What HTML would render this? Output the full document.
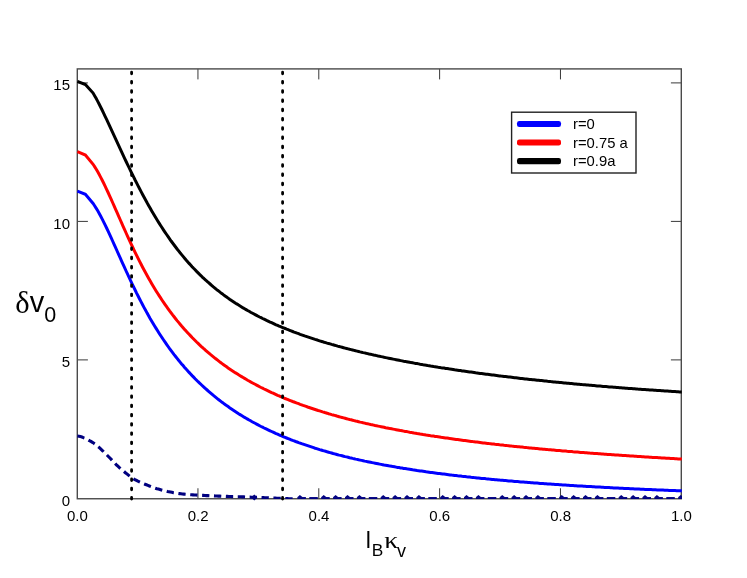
<!DOCTYPE html>
<html><head><meta charset="utf-8"><style>
html,body{margin:0;padding:0;background:#fff;}
body{width:747px;height:578px;overflow:hidden;font-family:"Liberation Sans",sans-serif;}
svg{display:block;}
text{font-family:"Liberation Sans",sans-serif;fill:#000;}
svg{will-change:transform;}
.serif{font-family:"Liberation Serif",serif;}
</style></head><body>
<svg width="747" height="578" viewBox="0 0 747 578">
<rect width="747" height="578" fill="#fff"/>
<defs><clipPath id="c"><rect x="76.6" y="68.2" width="605.4" height="430.80"/></clipPath></defs>
<g stroke="#383838" stroke-width="1" fill="none"><line x1="197.95" y1="498.75" x2="197.95" y2="488.25"/><line x1="197.95" y1="68.9" x2="197.95" y2="79.4"/><line x1="318.79" y1="498.75" x2="318.79" y2="488.25"/><line x1="318.79" y1="68.9" x2="318.79" y2="79.4"/><line x1="439.62" y1="498.75" x2="439.62" y2="488.25"/><line x1="439.62" y1="68.9" x2="439.62" y2="79.4"/><line x1="560.46" y1="498.75" x2="560.46" y2="488.25"/><line x1="560.46" y1="68.9" x2="560.46" y2="79.4"/><line x1="77.4" y1="359.9" x2="87.9" y2="359.9"/><line x1="681.4" y1="359.9" x2="670.9" y2="359.9"/><line x1="77.4" y1="221.4" x2="87.9" y2="221.4"/><line x1="681.4" y1="221.4" x2="670.9" y2="221.4"/><line x1="77.4" y1="82.9" x2="87.9" y2="82.9"/><line x1="681.4" y1="82.9" x2="670.9" y2="82.9"/></g>
<rect x="77.3" y="68.9" width="604.0" height="429.85" fill="none" stroke="#4a4a4a" stroke-width="1.4"/>
<g clip-path="url(#c)" fill="none" stroke-width="3.0" stroke-linejoin="miter">
<path d="M77.4,436.0 L78.9,436.2 L80.4,436.6 L81.9,437.0 L83.4,437.6 L84.9,438.1 L86.4,438.9 L87.9,439.7 L89.4,440.6 L90.9,441.4 L92.4,442.3 L93.9,443.3 L95.4,444.3 L96.9,445.5 L98.4,446.8 L99.9,448.2 L101.4,449.6 L102.9,451.0 L104.4,452.5 L105.9,454.0 L107.4,455.5 L108.9,457.0 L110.4,458.5 L111.9,460.1 L113.4,461.7 L114.9,463.2 L116.4,464.8 L117.9,466.2 L119.4,467.6 L120.9,468.9 L122.4,470.2 L123.9,471.4 L125.4,472.7 L126.9,473.9 L128.4,475.1 L129.9,476.3 L131.4,477.4 L132.9,478.4 L134.4,479.3 L135.9,480.1 L137.4,480.9 L138.9,481.6 L140.4,482.3 L141.9,483.0 L143.4,483.6 L144.9,484.2 L146.4,484.8 L147.9,485.4 L149.4,486.0 L150.9,486.6 L152.4,487.1 L153.9,487.7 L155.4,488.2 L156.9,488.7 L158.4,489.1 L159.9,489.5 L161.4,489.9 L162.9,490.3 L164.4,490.7 L165.9,491.0 L167.4,491.4 L168.9,491.7 L170.4,492.0 L171.9,492.3 L173.4,492.7 L174.9,492.9 L176.4,493.2 L177.9,493.4 L179.4,493.6 L180.9,493.8 L182.4,494.0 L183.9,494.1 L185.4,494.3 L186.9,494.4 L188.4,494.5 L189.9,494.7 L191.4,494.8 L192.9,494.9 L194.4,495.0 L195.9,495.0 L197.4,495.1 L198.9,495.2 L200.4,495.3 L201.9,495.4 L203.4,495.4 L204.9,495.5 L206.4,495.6 L207.9,495.6 L209.4,495.7 L210.9,495.8 L212.4,495.8 L213.9,495.9 L215.4,496.0 L216.9,496.0 L218.4,496.1 L219.9,496.1 L221.4,496.2 L222.9,496.2 L224.4,496.3 L225.9,496.4 L227.4,496.4 L228.9,496.5 L230.4,496.5 L231.9,496.6 L233.4,496.6 L234.9,496.7 L236.4,496.7 L237.9,496.7 L239.4,496.8 L240.9,496.8 L242.4,496.9 L243.9,496.9 L245.4,497.0 L246.9,497.0 L248.4,497.1 L249.9,497.1 L251.4,497.2 L252.9,497.2 L254.4,497.3 L255.9,497.3 L257.4,497.4 L258.9,497.5 L260.4,497.5 L261.9,497.6 L263.4,497.6 L264.9,497.7 L266.4,497.7 L267.9,497.8 L269.4,497.9 L270.9,497.9 L272.4,498.0 L273.9,498.0 L275.4,498.1 L276.9,498.2 L278.4,498.2 L279.9,498.3 L281.4,498.4 L282.9,498.4 L284.4,498.5 L285.9,498.5 L287.4,498.6 L288.9,498.7 L290.4,498.7 L291.9,498.8 L293.4,498.9 L294.0,498.9" stroke="#000080" stroke-width="3.1" stroke-dasharray="7.3 4.6"/>
<g fill="#000080" stroke="none"><rect x="297.4" y="497.05" width="8.5" height="2.2"/><path d="M297.3,497.3 L299.9,495.1 L302.7,497.3Z"/><rect x="309.3" y="497.05" width="8.5" height="2.2"/><rect x="321.2" y="497.05" width="8.5" height="2.2"/><path d="M321.1,497.3 L323.7,495.1 L326.5,497.3Z"/><rect x="333.1" y="497.05" width="8.5" height="2.2"/><path d="M333.0,497.3 L335.6,495.1 L338.4,497.3Z"/><rect x="345.0" y="497.05" width="8.5" height="2.2"/><path d="M344.9,497.3 L347.5,495.1 L350.3,497.3Z"/><rect x="356.9" y="497.05" width="8.5" height="2.2"/><path d="M356.8,497.3 L359.4,495.1 L362.2,497.3Z"/><rect x="368.8" y="497.05" width="8.5" height="2.2"/><rect x="380.7" y="497.05" width="8.5" height="2.2"/><path d="M380.6,497.3 L383.2,495.1 L386.0,497.3Z"/><rect x="392.6" y="497.05" width="8.5" height="2.2"/><path d="M392.5,497.3 L395.1,495.1 L397.9,497.3Z"/><rect x="404.5" y="497.05" width="8.5" height="2.2"/><path d="M404.4,497.3 L407.0,495.1 L409.8,497.3Z"/><rect x="416.4" y="497.05" width="8.5" height="2.2"/><path d="M416.3,497.3 L418.9,495.1 L421.7,497.3Z"/><rect x="428.3" y="497.05" width="8.5" height="2.2"/><rect x="440.2" y="497.05" width="8.5" height="2.2"/><path d="M440.1,497.3 L442.7,495.1 L445.5,497.3Z"/><rect x="452.1" y="497.05" width="8.5" height="2.2"/><path d="M452.0,497.3 L454.6,495.1 L457.4,497.3Z"/><rect x="464.0" y="497.05" width="8.5" height="2.2"/><path d="M463.9,497.3 L466.5,495.1 L469.3,497.3Z"/><rect x="475.9" y="497.05" width="8.5" height="2.2"/><path d="M475.8,497.3 L478.4,495.1 L481.2,497.3Z"/><rect x="487.8" y="497.05" width="8.5" height="2.2"/><rect x="499.7" y="497.05" width="8.5" height="2.2"/><path d="M499.6,497.3 L502.2,495.1 L505.0,497.3Z"/><rect x="511.6" y="497.05" width="8.5" height="2.2"/><path d="M511.5,497.3 L514.1,495.1 L516.9,497.3Z"/><rect x="523.5" y="497.05" width="8.5" height="2.2"/><path d="M523.4,497.3 L526.0,495.1 L528.8,497.3Z"/><rect x="535.4" y="497.05" width="8.5" height="2.2"/><path d="M535.3,497.3 L537.9,495.1 L540.7,497.3Z"/><rect x="547.3" y="497.05" width="8.5" height="2.2"/><rect x="559.2" y="497.05" width="8.5" height="2.2"/><path d="M559.1,497.3 L561.7,495.1 L564.5,497.3Z"/><rect x="571.1" y="497.05" width="8.5" height="2.2"/><path d="M571.0,497.3 L573.6,495.1 L576.4,497.3Z"/><rect x="583.0" y="497.05" width="8.5" height="2.2"/><path d="M582.9,497.3 L585.5,495.1 L588.3,497.3Z"/><rect x="594.9" y="497.05" width="8.5" height="2.2"/><path d="M594.8,497.3 L597.4,495.1 L600.2,497.3Z"/><rect x="606.8" y="497.05" width="8.5" height="2.2"/><rect x="618.7" y="497.05" width="8.5" height="2.2"/><path d="M618.6,497.3 L621.2,495.1 L624.0,497.3Z"/><rect x="630.6" y="497.05" width="8.5" height="2.2"/><path d="M630.5,497.3 L633.1,495.1 L635.9,497.3Z"/><rect x="642.5" y="497.05" width="8.5" height="2.2"/><path d="M642.4,497.3 L645.0,495.1 L647.8,497.3Z"/><rect x="654.4" y="497.05" width="8.5" height="2.2"/><path d="M654.3,497.3 L656.9,495.1 L659.7,497.3Z"/><rect x="666.3" y="497.05" width="8.5" height="2.2"/><rect x="678.2" y="497.05" width="8.5" height="2.2"/><path d="M678.1,497.3 L680.7,495.1 L683.5,497.3Z"/></g>
<path d="M77.4,191.2 L85.4,194.3 L93.1,203.5 L94.6,205.7 L96.1,208.1 L97.6,210.6 L99.1,213.2 L100.6,216.0 L102.1,218.9 L103.6,221.8 L105.1,224.9 L106.6,228.0 L108.1,231.2 L109.6,234.4 L111.1,237.7 L112.6,241.0 L114.1,244.3 L115.6,247.6 L117.1,251.0 L118.6,254.4 L120.1,257.7 L121.6,261.1 L123.1,264.4 L124.6,267.7 L126.1,271.0 L127.6,274.2 L129.1,277.5 L130.6,280.7 L132.1,283.8 L133.6,286.9 L135.1,290.0 L136.6,293.1 L138.1,296.0 L139.6,299.0 L141.1,301.9 L142.6,304.8 L144.1,307.6 L145.6,310.3 L147.1,313.1 L148.6,315.7 L150.1,318.4 L151.6,320.9 L153.1,323.5 L154.6,326.0 L156.1,328.4 L157.6,330.8 L159.1,333.2 L160.6,335.5 L162.1,337.8 L163.6,340.0 L165.1,342.2 L166.6,344.4 L168.1,346.5 L169.6,348.6 L171.1,350.6 L172.6,352.6 L174.1,354.6 L175.6,356.5 L177.1,358.4 L178.6,360.3 L180.1,362.1 L181.6,363.9 L183.1,365.6 L184.6,367.4 L186.1,369.1 L187.6,370.7 L189.1,372.4 L190.6,374.0 L192.1,375.6 L193.6,377.1 L195.1,378.7 L196.6,380.2 L198.1,381.7 L199.6,383.1 L201.1,384.5 L202.6,386.0 L204.1,387.3 L205.6,388.7 L207.1,390.0 L208.6,391.3 L210.1,392.6 L211.6,393.9 L213.1,395.2 L214.6,396.4 L216.1,397.6 L217.6,398.8 L219.1,400.0 L220.6,401.1 L222.1,402.3 L223.6,403.4 L225.1,404.5 L226.6,405.6 L228.1,406.6 L229.6,407.7 L231.1,408.7 L232.6,409.7 L234.1,410.7 L235.6,411.7 L237.1,412.7 L238.6,413.7 L240.1,414.6 L241.6,415.5 L243.1,416.4 L244.6,417.4 L246.1,418.2 L247.6,419.1 L249.1,420.0 L250.6,420.8 L252.1,421.7 L253.6,422.5 L255.1,423.3 L256.6,424.1 L258.1,424.9 L259.6,425.7 L261.1,426.5 L262.6,427.2 L264.1,428.0 L265.6,428.7 L267.1,429.4 L268.6,430.1 L270.1,430.8 L271.6,431.5 L273.1,432.2 L274.6,432.9 L276.1,433.6 L277.6,434.2 L279.1,434.9 L280.6,435.5 L282.1,436.2 L283.6,436.8 L285.1,437.4 L286.6,438.0 L288.1,438.6 L289.6,439.2 L291.1,439.8 L292.6,440.4 L294.1,440.9 L295.6,441.5 L297.1,442.0 L298.6,442.6 L300.1,443.1 L301.6,443.7 L303.1,444.2 L304.6,444.7 L306.1,445.2 L307.6,445.7 L309.1,446.2 L310.6,446.7 L312.1,447.2 L313.6,447.7 L315.1,448.2 L316.6,448.6 L318.1,449.1 L319.6,449.6 L321.1,450.0 L322.6,450.5 L324.1,450.9 L325.6,451.3 L327.1,451.8 L328.6,452.2 L330.1,452.6 L331.6,453.0 L333.1,453.5 L334.6,453.9 L336.1,454.3 L337.6,454.7 L339.1,455.1 L340.6,455.4 L342.1,455.8 L343.6,456.2 L345.1,456.6 L346.6,456.9 L348.1,457.3 L349.6,457.7 L351.1,458.0 L352.6,458.4 L354.1,458.7 L355.6,459.1 L357.1,459.4 L358.6,459.8 L360.1,460.1 L361.6,460.4 L363.1,460.7 L364.6,461.1 L366.1,461.4 L367.6,461.7 L369.1,462.0 L370.6,462.3 L372.1,462.6 L373.6,462.9 L375.1,463.2 L376.6,463.5 L378.1,463.8 L379.6,464.1 L381.1,464.4 L382.6,464.7 L384.1,465.0 L385.6,465.2 L387.1,465.5 L388.6,465.8 L390.1,466.1 L391.6,466.3 L393.1,466.6 L394.6,466.8 L396.1,467.1 L397.6,467.4 L399.1,467.6 L400.6,467.9 L402.1,468.1 L403.6,468.4 L405.1,468.6 L406.6,468.8 L408.1,469.1 L409.6,469.3 L411.1,469.5 L412.6,469.8 L414.1,470.0 L415.6,470.2 L417.1,470.5 L418.6,470.7 L420.1,470.9 L421.6,471.1 L423.1,471.3 L424.6,471.5 L426.1,471.8 L427.6,472.0 L429.1,472.2 L430.6,472.4 L432.1,472.6 L433.6,472.8 L435.1,473.0 L436.6,473.2 L438.1,473.4 L439.6,473.6 L441.1,473.8 L442.6,474.0 L444.1,474.1 L445.6,474.3 L447.1,474.5 L448.6,474.7 L450.1,474.9 L451.6,475.1 L453.1,475.2 L454.6,475.4 L456.1,475.6 L457.6,475.8 L459.1,475.9 L460.6,476.1 L462.1,476.3 L463.6,476.4 L465.1,476.6 L466.6,476.8 L468.1,476.9 L469.6,477.1 L471.1,477.3 L472.6,477.4 L474.1,477.6 L475.6,477.7 L477.1,477.9 L478.6,478.0 L480.1,478.2 L481.6,478.4 L483.1,478.5 L484.6,478.6 L486.1,478.8 L487.6,478.9 L489.1,479.1 L490.6,479.2 L492.1,479.4 L493.6,479.5 L495.1,479.7 L496.6,479.8 L498.1,479.9 L499.6,480.1 L501.1,480.2 L502.6,480.3 L504.1,480.5 L505.6,480.6 L507.1,480.7 L508.6,480.9 L510.1,481.0 L511.6,481.1 L513.1,481.2 L514.6,481.4 L516.1,481.5 L517.6,481.6 L519.1,481.7 L520.6,481.9 L522.1,482.0 L523.6,482.1 L525.1,482.2 L526.6,482.3 L528.1,482.5 L529.6,482.6 L531.1,482.7 L532.6,482.8 L534.1,482.9 L535.6,483.0 L537.1,483.1 L538.6,483.2 L540.1,483.4 L541.6,483.5 L543.1,483.6 L544.6,483.7 L546.1,483.8 L547.6,483.9 L549.1,484.0 L550.6,484.1 L552.1,484.2 L553.6,484.3 L555.1,484.4 L556.6,484.5 L558.1,484.6 L559.6,484.7 L561.1,484.8 L562.6,484.9 L564.1,485.0 L565.6,485.1 L567.1,485.2 L568.6,485.3 L570.1,485.4 L571.6,485.5 L573.1,485.6 L574.6,485.7 L576.1,485.8 L577.6,485.9 L579.1,485.9 L580.6,486.0 L582.1,486.1 L583.6,486.2 L585.1,486.3 L586.6,486.4 L588.1,486.5 L589.6,486.6 L591.1,486.6 L592.6,486.7 L594.1,486.8 L595.6,486.9 L597.1,487.0 L598.6,487.1 L600.1,487.1 L601.6,487.2 L603.1,487.3 L604.6,487.4 L606.1,487.5 L607.6,487.5 L609.1,487.6 L610.6,487.7 L612.1,487.8 L613.6,487.9 L615.1,487.9 L616.6,488.0 L618.1,488.1 L619.6,488.2 L621.1,488.2 L622.6,488.3 L624.1,488.4 L625.6,488.5 L627.1,488.5 L628.6,488.6 L630.1,488.7 L631.6,488.7 L633.1,488.8 L634.6,488.9 L636.1,489.0 L637.6,489.0 L639.1,489.1 L640.6,489.2 L642.1,489.2 L643.6,489.3 L645.1,489.4 L646.6,489.4 L648.1,489.5 L649.6,489.6 L651.1,489.6 L652.6,489.7 L654.1,489.8 L655.6,489.8 L657.1,489.9 L658.6,489.9 L660.1,490.0 L661.6,490.1 L663.1,490.1 L664.6,490.2 L666.1,490.2 L667.6,490.3 L669.1,490.4 L670.6,490.4 L672.1,490.5 L673.6,490.5 L675.1,490.6 L676.6,490.7 L678.1,490.7 L679.6,490.8 L681.1,490.8 L681.8,490.9" stroke="#0000ff"/>
<path d="M77.4,151.7 L85.4,155.0 L93.1,164.3 L94.6,166.6 L96.1,169.0 L97.6,171.6 L99.1,174.3 L100.6,177.1 L102.1,180.0 L103.6,183.0 L105.1,186.1 L106.6,189.3 L108.1,192.5 L109.6,195.8 L111.1,199.1 L112.6,202.5 L114.1,205.9 L115.6,209.3 L117.1,212.7 L118.6,216.1 L120.1,219.5 L121.6,222.9 L123.1,226.3 L124.6,229.7 L126.1,233.0 L127.6,236.3 L129.1,239.6 L130.6,242.8 L132.1,246.0 L133.6,249.2 L135.1,252.3 L136.6,255.4 L138.1,258.4 L139.6,261.4 L141.1,264.3 L142.6,267.2 L144.1,270.0 L145.6,272.8 L147.1,275.5 L148.6,278.2 L150.1,280.8 L151.6,283.4 L153.1,285.9 L154.6,288.4 L156.1,290.9 L157.6,293.3 L159.1,295.6 L160.6,297.9 L162.1,300.2 L163.6,302.4 L165.1,304.6 L166.6,306.7 L168.1,308.8 L169.6,310.9 L171.1,312.9 L172.6,314.9 L174.1,316.8 L175.6,318.7 L177.1,320.6 L178.6,322.4 L180.1,324.2 L181.6,326.0 L183.1,327.7 L184.6,329.4 L186.1,331.1 L187.6,332.7 L189.1,334.3 L190.6,335.9 L192.1,337.5 L193.6,339.0 L195.1,340.5 L196.6,342.0 L198.1,343.4 L199.6,344.9 L201.1,346.3 L202.6,347.6 L204.1,349.0 L205.6,350.3 L207.1,351.6 L208.6,352.9 L210.1,354.2 L211.6,355.4 L213.1,356.6 L214.6,357.8 L216.1,359.0 L217.6,360.2 L219.1,361.4 L220.6,362.5 L222.1,363.6 L223.6,364.7 L225.1,365.8 L226.6,366.8 L228.1,367.9 L229.6,368.9 L231.1,369.9 L232.6,370.9 L234.1,371.9 L235.6,372.9 L237.1,373.8 L238.6,374.8 L240.1,375.7 L241.6,376.6 L243.1,377.5 L244.6,378.4 L246.1,379.3 L247.6,380.2 L249.1,381.0 L250.6,381.9 L252.1,382.7 L253.6,383.5 L255.1,384.3 L256.6,385.1 L258.1,385.9 L259.6,386.7 L261.1,387.5 L262.6,388.2 L264.1,389.0 L265.6,389.7 L267.1,390.4 L268.6,391.1 L270.1,391.9 L271.6,392.6 L273.1,393.2 L274.6,393.9 L276.1,394.6 L277.6,395.3 L279.1,395.9 L280.6,396.6 L282.1,397.2 L283.6,397.8 L285.1,398.5 L286.6,399.1 L288.1,399.7 L289.6,400.3 L291.1,400.9 L292.6,401.5 L294.1,402.0 L295.6,402.6 L297.1,403.2 L298.6,403.7 L300.1,404.3 L301.6,404.8 L303.1,405.4 L304.6,405.9 L306.1,406.4 L307.6,407.0 L309.1,407.5 L310.6,408.0 L312.1,408.5 L313.6,409.0 L315.1,409.5 L316.6,410.0 L318.1,410.5 L319.6,410.9 L321.1,411.4 L322.6,411.9 L324.1,412.3 L325.6,412.8 L327.1,413.2 L328.6,413.7 L330.1,414.1 L331.6,414.6 L333.1,415.0 L334.6,415.4 L336.1,415.8 L337.6,416.3 L339.1,416.7 L340.6,417.1 L342.1,417.5 L343.6,417.9 L345.1,418.3 L346.6,418.7 L348.1,419.1 L349.6,419.5 L351.1,419.8 L352.6,420.2 L354.1,420.6 L355.6,421.0 L357.1,421.3 L358.6,421.7 L360.1,422.1 L361.6,422.4 L363.1,422.8 L364.6,423.1 L366.1,423.5 L367.6,423.8 L369.1,424.1 L370.6,424.5 L372.1,424.8 L373.6,425.1 L375.1,425.5 L376.6,425.8 L378.1,426.1 L379.6,426.4 L381.1,426.7 L382.6,427.0 L384.1,427.3 L385.6,427.7 L387.1,428.0 L388.6,428.3 L390.1,428.6 L391.6,428.8 L393.1,429.1 L394.6,429.4 L396.1,429.7 L397.6,430.0 L399.1,430.3 L400.6,430.6 L402.1,430.8 L403.6,431.1 L405.1,431.4 L406.6,431.6 L408.1,431.9 L409.6,432.2 L411.1,432.4 L412.6,432.7 L414.1,433.0 L415.6,433.2 L417.1,433.5 L418.6,433.7 L420.1,434.0 L421.6,434.2 L423.1,434.5 L424.6,434.7 L426.1,435.0 L427.6,435.2 L429.1,435.4 L430.6,435.7 L432.1,435.9 L433.6,436.1 L435.1,436.4 L436.6,436.6 L438.1,436.8 L439.6,437.0 L441.1,437.3 L442.6,437.5 L444.1,437.7 L445.6,437.9 L447.1,438.1 L448.6,438.3 L450.1,438.6 L451.6,438.8 L453.1,439.0 L454.6,439.2 L456.1,439.4 L457.6,439.6 L459.1,439.8 L460.6,440.0 L462.1,440.2 L463.6,440.4 L465.1,440.6 L466.6,440.8 L468.1,441.0 L469.6,441.2 L471.1,441.4 L472.6,441.6 L474.1,441.7 L475.6,441.9 L477.1,442.1 L478.6,442.3 L480.1,442.5 L481.6,442.7 L483.1,442.9 L484.6,443.0 L486.1,443.2 L487.6,443.4 L489.1,443.6 L490.6,443.7 L492.1,443.9 L493.6,444.1 L495.1,444.3 L496.6,444.4 L498.1,444.6 L499.6,444.8 L501.1,444.9 L502.6,445.1 L504.1,445.3 L505.6,445.4 L507.1,445.6 L508.6,445.7 L510.1,445.9 L511.6,446.1 L513.1,446.2 L514.6,446.4 L516.1,446.5 L517.6,446.7 L519.1,446.8 L520.6,447.0 L522.1,447.1 L523.6,447.3 L525.1,447.4 L526.6,447.6 L528.1,447.7 L529.6,447.9 L531.1,448.0 L532.6,448.2 L534.1,448.3 L535.6,448.5 L537.1,448.6 L538.6,448.7 L540.1,448.9 L541.6,449.0 L543.1,449.2 L544.6,449.3 L546.1,449.4 L547.6,449.6 L549.1,449.7 L550.6,449.8 L552.1,450.0 L553.6,450.1 L555.1,450.2 L556.6,450.4 L558.1,450.5 L559.6,450.6 L561.1,450.7 L562.6,450.9 L564.1,451.0 L565.6,451.1 L567.1,451.3 L568.6,451.4 L570.1,451.5 L571.6,451.6 L573.1,451.8 L574.6,451.9 L576.1,452.0 L577.6,452.1 L579.1,452.2 L580.6,452.4 L582.1,452.5 L583.6,452.6 L585.1,452.7 L586.6,452.8 L588.1,452.9 L589.6,453.1 L591.1,453.2 L592.6,453.3 L594.1,453.4 L595.6,453.5 L597.1,453.6 L598.6,453.7 L600.1,453.8 L601.6,454.0 L603.1,454.1 L604.6,454.2 L606.1,454.3 L607.6,454.4 L609.1,454.5 L610.6,454.6 L612.1,454.7 L613.6,454.8 L615.1,454.9 L616.6,455.0 L618.1,455.1 L619.6,455.2 L621.1,455.3 L622.6,455.4 L624.1,455.5 L625.6,455.6 L627.1,455.7 L628.6,455.8 L630.1,455.9 L631.6,456.0 L633.1,456.1 L634.6,456.2 L636.1,456.3 L637.6,456.4 L639.1,456.5 L640.6,456.6 L642.1,456.7 L643.6,456.8 L645.1,456.9 L646.6,457.0 L648.1,457.1 L649.6,457.2 L651.1,457.3 L652.6,457.4 L654.1,457.5 L655.6,457.5 L657.1,457.6 L658.6,457.7 L660.1,457.8 L661.6,457.9 L663.1,458.0 L664.6,458.1 L666.1,458.2 L667.6,458.3 L669.1,458.3 L670.6,458.4 L672.1,458.5 L673.6,458.6 L675.1,458.7 L676.6,458.8 L678.1,458.9 L679.6,458.9 L681.1,459.0 L681.8,459.1" stroke="#ff0000"/>
<path d="M77.4,81.4 L85.4,84.6 L93.1,93.1 L94.6,95.7 L96.1,98.3 L97.6,101.1 L99.1,104.0 L100.6,107.0 L102.1,110.0 L103.6,113.1 L105.1,116.3 L106.6,119.4 L108.1,122.6 L109.6,125.9 L111.1,129.1 L112.6,132.4 L114.1,135.6 L115.6,138.9 L117.1,142.2 L118.6,145.4 L120.1,148.7 L121.6,151.9 L123.1,155.1 L124.6,158.3 L126.1,161.5 L127.6,164.6 L129.1,167.7 L130.6,170.8 L132.1,173.9 L133.6,176.9 L135.1,180.0 L136.6,182.9 L138.1,185.9 L139.6,188.8 L141.1,191.6 L142.6,194.5 L144.1,197.3 L145.6,200.0 L147.1,202.8 L148.6,205.4 L150.1,208.1 L151.6,210.7 L153.1,213.2 L154.6,215.8 L156.1,218.3 L157.6,220.7 L159.1,223.1 L160.6,225.5 L162.1,227.8 L163.6,230.1 L165.1,232.3 L166.6,234.5 L168.1,236.7 L169.6,238.9 L171.1,241.0 L172.6,243.0 L174.1,245.0 L175.6,247.0 L177.1,249.0 L178.6,250.9 L180.1,252.8 L181.6,254.6 L183.1,256.4 L184.6,258.2 L186.1,260.0 L187.6,261.7 L189.1,263.4 L190.6,265.0 L192.1,266.7 L193.6,268.3 L195.1,269.8 L196.6,271.4 L198.1,272.9 L199.6,274.4 L201.1,275.8 L202.6,277.3 L204.1,278.7 L205.6,280.0 L207.1,281.4 L208.6,282.7 L210.1,284.0 L211.6,285.3 L213.1,286.6 L214.6,287.8 L216.1,289.1 L217.6,290.3 L219.1,291.4 L220.6,292.6 L222.1,293.7 L223.6,294.9 L225.1,296.0 L226.6,297.0 L228.1,298.1 L229.6,299.2 L231.1,300.2 L232.6,301.2 L234.1,302.2 L235.6,303.2 L237.1,304.1 L238.6,305.1 L240.1,306.0 L241.6,306.9 L243.1,307.9 L244.6,308.7 L246.1,309.6 L247.6,310.5 L249.1,311.3 L250.6,312.2 L252.1,313.0 L253.6,313.8 L255.1,314.6 L256.6,315.4 L258.1,316.2 L259.6,317.0 L261.1,317.7 L262.6,318.5 L264.1,319.2 L265.6,319.9 L267.1,320.7 L268.6,321.4 L270.1,322.1 L271.6,322.7 L273.1,323.4 L274.6,324.1 L276.1,324.8 L277.6,325.4 L279.1,326.1 L280.6,326.7 L282.1,327.3 L283.6,327.9 L285.1,328.5 L286.6,329.2 L288.1,329.7 L289.6,330.3 L291.1,330.9 L292.6,331.5 L294.1,332.1 L295.6,332.6 L297.1,333.2 L298.6,333.7 L300.1,334.3 L301.6,334.8 L303.1,335.3 L304.6,335.9 L306.1,336.4 L307.6,336.9 L309.1,337.4 L310.6,337.9 L312.1,338.4 L313.6,338.9 L315.1,339.4 L316.6,339.8 L318.1,340.3 L319.6,340.8 L321.1,341.3 L322.6,341.7 L324.1,342.2 L325.6,342.6 L327.1,343.1 L328.6,343.5 L330.1,343.9 L331.6,344.4 L333.1,344.8 L334.6,345.2 L336.1,345.6 L337.6,346.1 L339.1,346.5 L340.6,346.9 L342.1,347.3 L343.6,347.7 L345.1,348.1 L346.6,348.5 L348.1,348.9 L349.6,349.3 L351.1,349.6 L352.6,350.0 L354.1,350.4 L355.6,350.8 L357.1,351.1 L358.6,351.5 L360.1,351.9 L361.6,352.2 L363.1,352.6 L364.6,352.9 L366.1,353.3 L367.6,353.6 L369.1,354.0 L370.6,354.3 L372.1,354.6 L373.6,355.0 L375.1,355.3 L376.6,355.6 L378.1,356.0 L379.6,356.3 L381.1,356.6 L382.6,356.9 L384.1,357.3 L385.6,357.6 L387.1,357.9 L388.6,358.2 L390.1,358.5 L391.6,358.8 L393.1,359.1 L394.6,359.4 L396.1,359.7 L397.6,360.0 L399.1,360.3 L400.6,360.6 L402.1,360.9 L403.6,361.2 L405.1,361.4 L406.6,361.7 L408.1,362.0 L409.6,362.3 L411.1,362.6 L412.6,362.8 L414.1,363.1 L415.6,363.4 L417.1,363.6 L418.6,363.9 L420.1,364.2 L421.6,364.4 L423.1,364.7 L424.6,364.9 L426.1,365.2 L427.6,365.5 L429.1,365.7 L430.6,366.0 L432.1,366.2 L433.6,366.5 L435.1,366.7 L436.6,366.9 L438.1,367.2 L439.6,367.4 L441.1,367.7 L442.6,367.9 L444.1,368.1 L445.6,368.4 L447.1,368.6 L448.6,368.8 L450.1,369.1 L451.6,369.3 L453.1,369.5 L454.6,369.8 L456.1,370.0 L457.6,370.2 L459.1,370.4 L460.6,370.6 L462.1,370.9 L463.6,371.1 L465.1,371.3 L466.6,371.5 L468.1,371.7 L469.6,371.9 L471.1,372.1 L472.6,372.3 L474.1,372.5 L475.6,372.8 L477.1,373.0 L478.6,373.2 L480.1,373.4 L481.6,373.6 L483.1,373.8 L484.6,374.0 L486.1,374.2 L487.6,374.3 L489.1,374.5 L490.6,374.7 L492.1,374.9 L493.6,375.1 L495.1,375.3 L496.6,375.5 L498.1,375.7 L499.6,375.9 L501.1,376.1 L502.6,376.2 L504.1,376.4 L505.6,376.6 L507.1,376.8 L508.6,377.0 L510.1,377.1 L511.6,377.3 L513.1,377.5 L514.6,377.7 L516.1,377.8 L517.6,378.0 L519.1,378.2 L520.6,378.4 L522.1,378.5 L523.6,378.7 L525.1,378.9 L526.6,379.0 L528.1,379.2 L529.6,379.4 L531.1,379.5 L532.6,379.7 L534.1,379.8 L535.6,380.0 L537.1,380.2 L538.6,380.3 L540.1,380.5 L541.6,380.6 L543.1,380.8 L544.6,381.0 L546.1,381.1 L547.6,381.3 L549.1,381.4 L550.6,381.6 L552.1,381.7 L553.6,381.9 L555.1,382.0 L556.6,382.2 L558.1,382.3 L559.6,382.5 L561.1,382.6 L562.6,382.7 L564.1,382.9 L565.6,383.0 L567.1,383.2 L568.6,383.3 L570.1,383.5 L571.6,383.6 L573.1,383.7 L574.6,383.9 L576.1,384.0 L577.6,384.2 L579.1,384.3 L580.6,384.4 L582.1,384.6 L583.6,384.7 L585.1,384.8 L586.6,385.0 L588.1,385.1 L589.6,385.2 L591.1,385.3 L592.6,385.5 L594.1,385.6 L595.6,385.7 L597.1,385.9 L598.6,386.0 L600.1,386.1 L601.6,386.2 L603.1,386.4 L604.6,386.5 L606.1,386.6 L607.6,386.7 L609.1,386.9 L610.6,387.0 L612.1,387.1 L613.6,387.2 L615.1,387.3 L616.6,387.5 L618.1,387.6 L619.6,387.7 L621.1,387.8 L622.6,387.9 L624.1,388.0 L625.6,388.2 L627.1,388.3 L628.6,388.4 L630.1,388.5 L631.6,388.6 L633.1,388.7 L634.6,388.8 L636.1,388.9 L637.6,389.1 L639.1,389.2 L640.6,389.3 L642.1,389.4 L643.6,389.5 L645.1,389.6 L646.6,389.7 L648.1,389.8 L649.6,389.9 L651.1,390.0 L652.6,390.1 L654.1,390.2 L655.6,390.3 L657.1,390.4 L658.6,390.5 L660.1,390.6 L661.6,390.7 L663.1,390.8 L664.6,390.9 L666.1,391.0 L667.6,391.1 L669.1,391.2 L670.6,391.3 L672.1,391.4 L673.6,391.5 L675.1,391.6 L676.6,391.7 L678.1,391.8 L679.6,391.9 L681.1,392.0 L681.8,392.0" stroke="#000"/>
</g>
<path d="M251.2,497.4 L254.3,494.4 L257.4,497.4 L254.3,500.4Z" fill="#000080"/>
<g stroke="#000" stroke-width="2.8" stroke-linecap="round" stroke-dasharray="1.6 7.645" fill="none">
<line x1="131.6" y1="499.1" x2="131.6" y2="70"/>
<line x1="282.6" y1="499.1" x2="282.6" y2="70"/>
</g>
<g font-size="15"><text x="77.4" y="521" text-anchor="middle">0.0</text><text x="198.2" y="521" text-anchor="middle">0.2</text><text x="319.0" y="521" text-anchor="middle">0.4</text><text x="439.8" y="521" text-anchor="middle">0.6</text><text x="560.6" y="521" text-anchor="middle">0.8</text><text x="681.4" y="521" text-anchor="middle">1.0</text><text x="70" y="505.9" text-anchor="end">0</text><text x="70" y="367.4" text-anchor="end">5</text><text x="70" y="228.9" text-anchor="end">10</text><text x="70" y="90.4" text-anchor="end">15</text></g>
<rect x="511.6" y="112.2" width="124.4" height="60.8" fill="#fff" stroke="#222" stroke-width="1.4"/>
<rect x="517" y="121" width="44" height="6.1" rx="2.3" fill="#0000ff"/>
<rect x="517" y="139.5" width="44" height="6.1" rx="2.3" fill="#ff0000"/>
<rect x="517" y="158.1" width="44" height="6.1" rx="2.3" fill="#000"/>
<g font-size="14.8">
<text x="573.0" y="129.3">r=0</text>
<text x="573.0" y="147.6">r=0.75 a</text>
<text x="573.0" y="165.8">r=0.9a</text>
</g>
<text class="serif" x="15.2" y="312.6" font-size="30.5">δ</text>
<text x="29.8" y="312.3" font-size="29">v</text>
<text x="44.3" y="322.3" font-size="21.5">0</text>
<text x="365.8" y="548" font-size="23.2">l</text>
<text x="371.8" y="556.3" font-size="17.3">B</text>
<text class="serif" transform="translate(384.2,548) scale(1.17,1)" font-size="23.8">κ</text>
<text x="397" y="556.8" font-size="18">v</text>
</svg>
</body></html>
